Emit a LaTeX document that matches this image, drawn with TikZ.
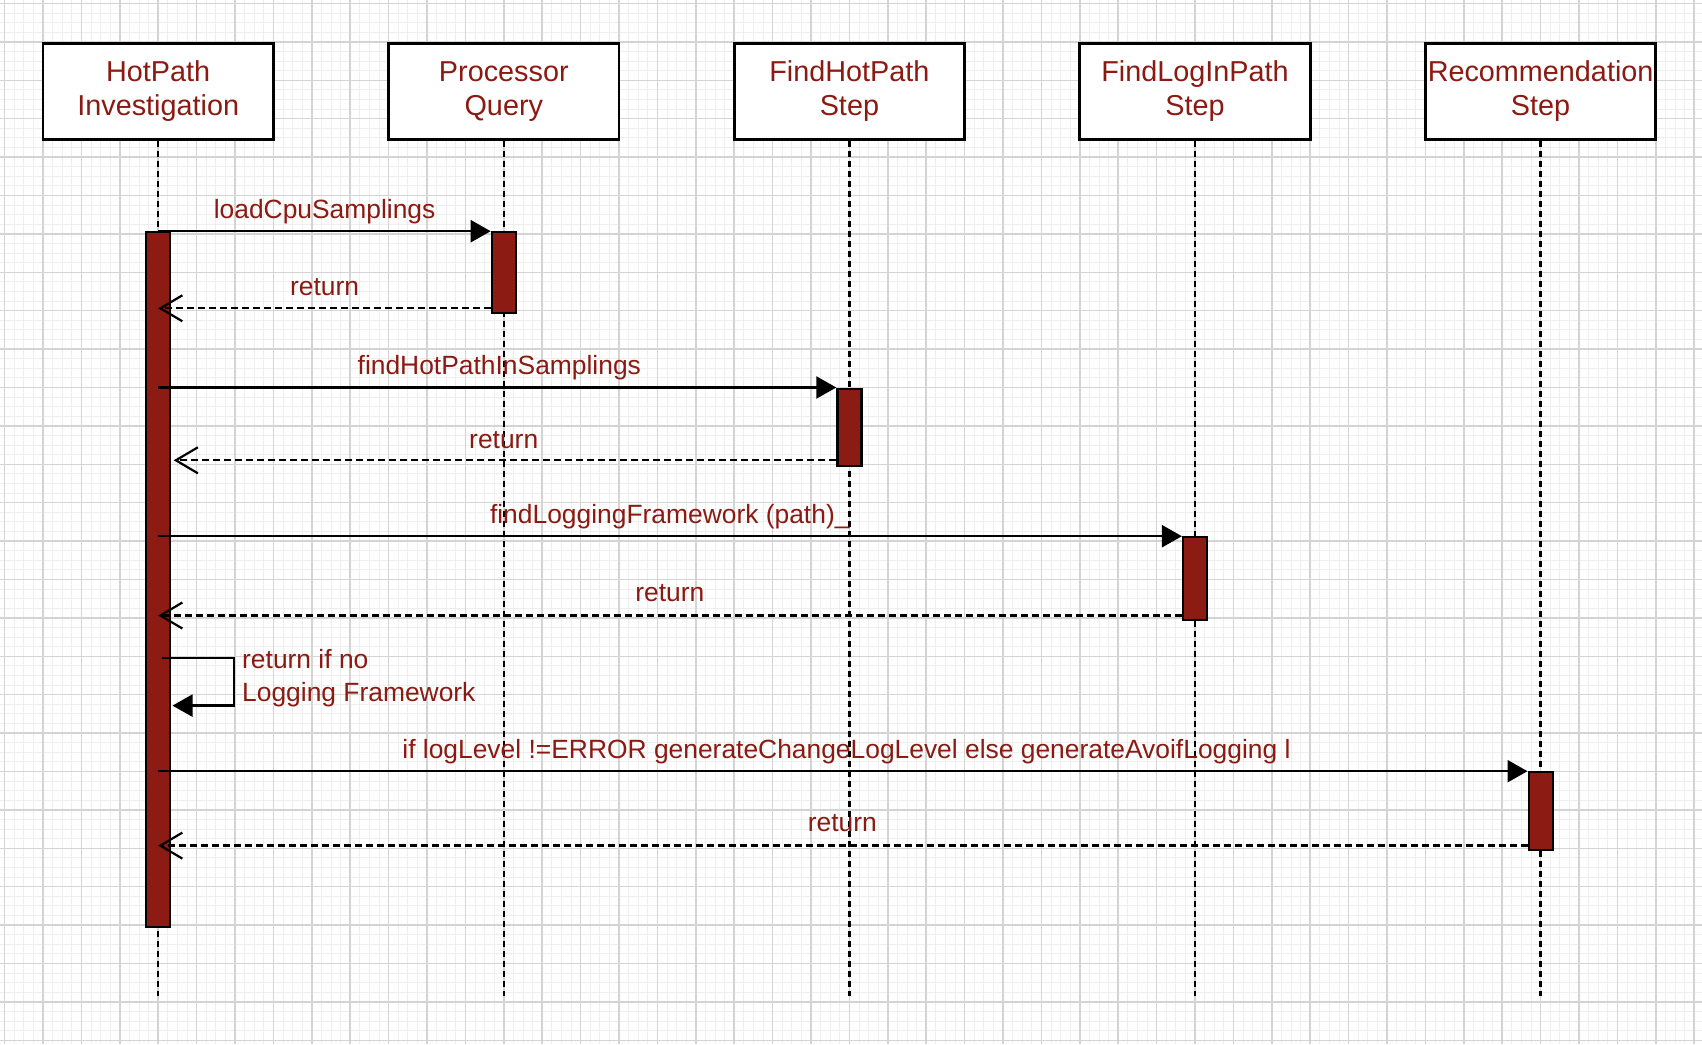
\documentclass[tikz,border=0pt]{standalone}
\usepackage{fontspec}
\setmainfont{Liberation Sans}
\usetikzlibrary{arrows.meta}
\definecolor{txtred}{RGB}{139,26,18}
\definecolor{actred}{RGB}{140,27,19}
\definecolor{gridmaj}{RGB}{212,212,212}
\definecolor{gridmin}{RGB}{238,238,238}
\tikzset{
  lbox/.style={draw=black, line width=2.8pt, fill=white, minimum width=230.4pt, minimum height=96pt,
     align=center, text=txtred, font=\fontsize{28.8}{34}\selectfont, inner sep=0pt},
  lifeline/.style={draw=black, line width=2.3pt, dash pattern=on 6pt off 4pt},
  actbar/.style={draw=black, line width=2.2pt, fill=actred, minimum width=24pt, inner sep=0pt},
  callmsg/.style={draw=black, line width=2.3pt, -{Triangle[length=20pt,width=22pt]}},
  retmsg/.style={draw=black, line width=2.3pt, dash pattern=on 7pt off 4pt, -{Straight Barb[length=22pt,width=26pt,line width=2.2pt]}},
  msglbl/.style={text=txtred, font=\fontsize{26.4}{33}\selectfont, inner sep=0pt, anchor=center},
}
\begin{document}
\begin{tikzpicture}[x=1pt,y=-1pt]
\fill[white] (0,0) rectangle (1702,1044);
\useasboundingbox (0,0) rectangle (1702,1044);
% grid
\foreach \i in {0,...,177} {\draw[gridmin, line width=1pt] ({4.6+9.6*\i},0) -- ++(0,1044);}
\foreach \i in {0,...,109} {\draw[gridmin, line width=1pt] (0,{3.5+9.6*\i}) -- ++(1702,0);}
\foreach \i in {0,...,44} {\draw[gridmaj, line width=1.5pt] ({4.6+38.4*\i},0) -- ++(0,1044);}
\foreach \i in {0,...,27} {\draw[gridmaj, line width=1.5pt] (0,{3.5+38.4*\i}) -- ++(1702,0);}
% participants
\node[lbox] (hp) at (158.2,91.4) {HotPath\\Investigation};
\node[lbox] (pq) at (503.8,91.4) {Processor\\Query};
\node[lbox] (fh) at (849.4,91.4) {FindHotPath\\Step};
\node[lbox] (fl) at (1195.0,91.4) {FindLogInPath\\Step};
\node[lbox] (rs) at (1540.6,91.4) {Recommendation\\Step};
% lifelines
\foreach \p in {hp,pq,fh,fl,rs} {
  \coordinate (\p-end) at (\p.south |- 0,996);
  \draw[lifeline] (\p.south) -- (\p-end);
}
% activations
\node[actbar, minimum height=694.7pt] (a0) at (158.2,579.65) {};
\node[actbar, minimum height=80.3pt] (a1) at (503.8,272.45) {};
\node[actbar, minimum height=77.1pt] (a2) at (849.4,427.15) {};
\node[actbar, minimum height=82.5pt] (a3) at (1195.0,578.55) {};
\node[actbar, minimum height=77.7pt] (a4) at (1540.6,811.15) {};
% messages
\draw[callmsg] (hp.south |- a1.north) -- (a1.north west);
\draw[retmsg] (a1.west |- 0,308.3) -- (hp.south |- 0,308.3);
\draw[callmsg] (hp.south |- a2.north) -- (a2.north west);
\draw[retmsg] (a2.west |- 0,460.3) -- (173.7,460.3);
\draw[callmsg] (hp.south |- a3.north) -- (a3.north west);
\draw[retmsg] (a3.west |- 0,615.5) -- (hp.south |- 0,615.5);
\coordinate (selfa) at (161.7,657.8);
\coordinate (selfb) at (234,657.8);
\coordinate (selfc) at (234,705.6);
\coordinate (selfd) at (172.5,705.6);
\draw[callmsg] (selfa) -- (selfb) -- (selfc) -- (selfd);
\draw[callmsg] (hp.south |- a4.north) -- (a4.north west);
\draw[retmsg] (a4.west |- 0,845.6) -- (hp.south |- 0,845.6);
% labels
\node[msglbl] (l1) at (324.6,211.5) {loadCpuSamplings};
\node[msglbl] (l2) at (324.6,287) {return};
\node[msglbl] (l3) at (499.3,367.5) {findHotPathInSamplings};
\node[msglbl] (l4) at (503.7,440) {return};
\node[msglbl] (l5) at (669.8,516.5) {findLoggingFramework (path)\_};
\node[msglbl] (l6) at (669.8,593.5) {return};
\node[msglbl, anchor=west, align=left] (l7) at (242,678.5) {return if no\\Logging Framework};
\node[msglbl] (l8) at (846.5,752) {if logLevel !=ERROR generateChangeLogLevel else generateAvoifLogging l};
\node[msglbl] (l9) at (842.4,823.5) {return};
\end{tikzpicture}
\end{document}
